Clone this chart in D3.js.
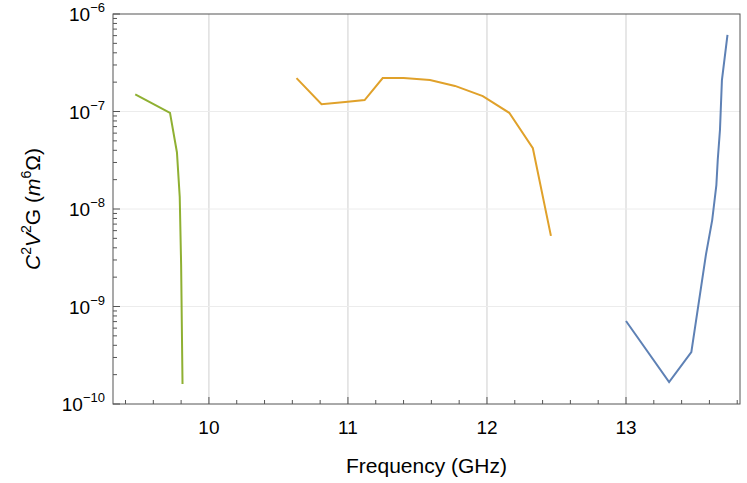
<!DOCTYPE html>
<html><head><meta charset="utf-8">
<script src="https://cdn.jsdelivr.net/npm/d3@7"></script>
<style>body{margin:0;background:#fff}text{font-family:"Liberation Sans",Arial,sans-serif}</style>
</head><body><svg id="c" width="747" height="483"></svg>
<script>
// series (GHz, m^6 Ohm)
const greenX = [9.47, 9.72, 9.77, 9.79, 9.80, 9.81];
const greenY = [1.5e-7, 9.7e-8, 3.8e-8, 1.33e-8, 2.7e-9, 1.6e-10];
const orangeX = [10.63, 10.81, 10.98, 11.12, 11.25, 11.40, 11.59, 11.77, 11.97, 12.16, 12.33, 12.46];
const orangeY = [2.2e-7, 1.19e-7, 1.25e-7, 1.31e-7, 2.2e-7, 2.2e-7, 2.1e-7, 1.83e-7, 1.44e-7, 9.7e-8, 4.2e-8, 5.3e-9];
const blueX = [13.0, 13.31, 13.47, 13.575, 13.62, 13.65, 13.66, 13.676, 13.69, 13.73];
const blueY = [7.1e-10, 1.68e-10, 3.4e-10, 3.4e-9, 7.7e-9, 1.76e-8, 3.2e-8, 6.5e-8, 2.1e-7, 6.1e-7];
const xTicks = [10, 11, 12, 13];
const yExps = [-10, -9, -8, -7, -6];

const svg = d3.select("#c");
const pLeft = 113, pRight = 740, pTop = 14, pBottom = 404;
const x = d3.scaleLinear().domain([9.31, 13.82]).range([pLeft, pRight]);
const y = d3.scaleLog().domain([1e-10, 1e-6]).range([pBottom, pTop]);

// grid
svg.selectAll(".vg").data(xTicks).join("line")
    .attr("x1", d => x(d)).attr("x2", d => x(d)).attr("y1", pTop).attr("y2", pBottom)
    .attr("stroke", "#cfcfcf").attr("stroke-width", 1);
svg.selectAll(".hg").data(yExps.slice(1, -1)).join("line")
    .attr("x1", pLeft).attr("x2", pRight).attr("y1", d => y(Math.pow(10, d))).attr("y2", d => y(Math.pow(10, d)))
    .attr("stroke", "#ececec").attr("stroke-width", 1);

// frame
svg.append("rect").attr("x", pLeft).attr("y", pTop).attr("width", pRight - pLeft).attr("height", pBottom - pTop)
    .attr("fill", "none").attr("stroke", "#555").attr("stroke-width", 1);

// x ticks
const xMinor = d3.range(9.4, 13.81, 0.2).filter(v => Math.abs(v - Math.round(v)) > 0.01);
svg.selectAll(".xt").data(xTicks).join("line")
    .attr("x1", d => x(d)).attr("x2", d => x(d)).attr("y1", pBottom).attr("y2", pBottom - 7).attr("stroke", "#555");
svg.selectAll(".xm").data(xMinor).join("line")
    .attr("x1", d => x(d)).attr("x2", d => x(d)).attr("y1", pBottom).attr("y2", pBottom - 4).attr("stroke", "#555");
svg.selectAll(".xl").data(xTicks).join("text")
    .attr("x", d => x(d)).attr("y", pBottom + 30).attr("text-anchor", "middle").attr("font-size", 19).text(d => d);

// y ticks
const yMinor = [];
for (let e = -10; e < -6; e++) for (let m = 2; m < 10; m++) yMinor.push(m * Math.pow(10, e));
svg.selectAll(".yt").data(yExps).join("line")
    .attr("x1", pLeft).attr("x2", pLeft + 7).attr("y1", d => y(Math.pow(10, d))).attr("y2", d => y(Math.pow(10, d))).attr("stroke", "#555");
svg.selectAll(".ym").data(yMinor).join("line")
    .attr("x1", pLeft).attr("x2", pLeft + 4).attr("y1", d => y(d)).attr("y2", d => y(d)).attr("stroke", "#555");
const yl = svg.selectAll(".yl").data(yExps).join("text")
    .attr("x", pLeft - 8).attr("y", d => y(Math.pow(10, d)) + 7).attr("text-anchor", "end").attr("font-size", 19);
yl.append("tspan").text("10");
yl.append("tspan").attr("dy", -9).attr("font-size", 13).text(d => "\u2212" + (-d));

// lines
const line = d3.line().x(d => x(d[0])).y(d => y(d[1]));
[[greenX, greenY, "#8fb032"], [orangeX, orangeY, "#e0a12a"], [blueX, blueY, "#5e81b5"]].forEach(([xs, ys, c]) => {
    svg.append("path").datum(xs.map((v, i) => [v, ys[i]])).attr("d", line)
        .attr("fill", "none").attr("stroke", c).attr("stroke-width", 2);
});

// axis titles
svg.append("text").attr("x", (pLeft + pRight) / 2).attr("y", 473).attr("text-anchor", "middle")
    .attr("font-size", 21).text("Frequency (GHz)");
const yt = svg.append("text").attr("transform", `translate(40,${(pTop + pBottom) / 2}) rotate(-90)`)
    .attr("text-anchor", "middle").attr("font-size", 21);
yt.append("tspan").attr("font-style", "italic").text("C");
yt.append("tspan").attr("dy", -9).attr("font-size", 14).text("2");
yt.append("tspan").attr("dy", 9).attr("font-style", "italic").text("V");
yt.append("tspan").attr("dy", -9).attr("font-size", 14).text("2");
yt.append("tspan").attr("dy", 9).text("G  (");
yt.append("tspan").attr("font-style", "italic").text("m");
yt.append("tspan").attr("dy", -9).attr("font-size", 14).text("6");
yt.append("tspan").attr("dy", 9).text("\u03a9)");
</script></body></html>
